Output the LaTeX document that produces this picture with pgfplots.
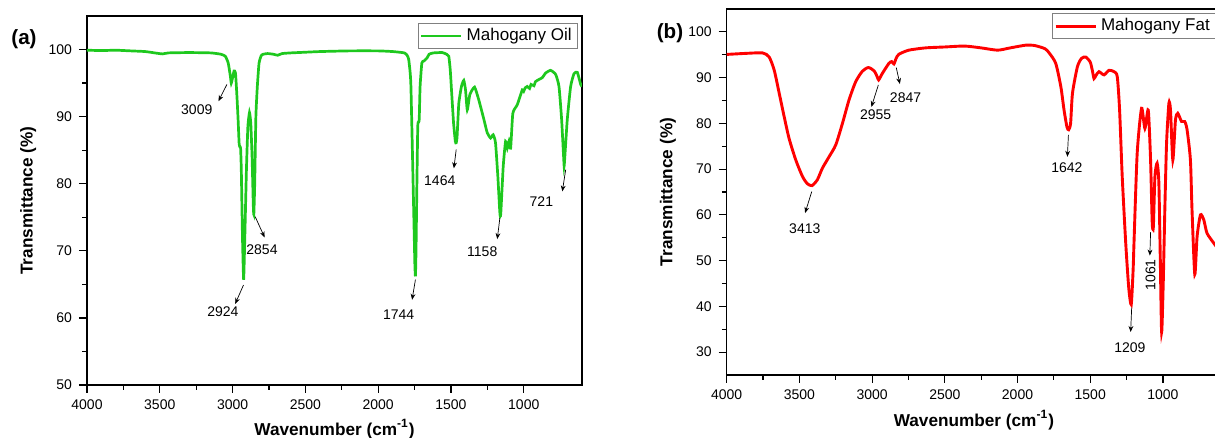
\documentclass[border=0pt]{standalone}
\usepackage{pgfplots}
\pgfplotsset{compat=1.18}
\usepackage{fontspec}
\setmainfont{Liberation Sans}
\usetikzlibrary{arrows.meta}

\definecolor{oilgreen}{RGB}{30,200,30}

\pgfplotsset{
  ftir/.style={
    scale only axis,
    anchor=south west,
    x dir=reverse,
    xmin=600, xmax=4000,
    xtick={1000,1500,...,4000},
    minor tick num=1,
    xtick pos=bottom, ytick pos=left,
    tick align=outside,
    major tick length=4pt, minor tick length=2.4pt,
    axis line style={line width=0.7pt},
    every tick/.style={black, line width=0.6pt},
    /pgf/number format/assume math mode=true,
    /pgf/number format/1000 sep={},
    tick label style={font=\fontsize{7}{8}\selectfont},
    label style={font=\bfseries\fontsize{8.6}{10}\selectfont},
    xlabel={Wavenumber (cm\textsuperscript{-1})},
    ylabel={Transmittance (\%)},
    legend image code/.code={\draw[#1] (0pt,0pt) -- (20pt,0pt);},
    legend style={anchor=north east, draw=gray, line width=0.4pt,
      font=\fontsize{8.5}{9}\selectfont, inner xsep=1pt, inner ysep=0.5pt},
  },
}
\tikzset{ann/.style={draw=black, line width=0.35pt, -{Stealth[length=3pt,width=2.4pt]}}}

\newcommand{\peak}[5]{%
  \draw[ann] (axis cs:#1) -- (axis cs:#2);
  \node[font=\fontsize{7}{8}\selectfont, #5] at (axis cs:#3) {#4};}

\begin{document}
\begin{tikzpicture}

% (a) oil
\begin{axis}[ftir,
  at={(43.5pt,26.5pt)}, width=247.5pt, height=184.5pt,
  ymin=50, ymax=105, ytick={50,60,...,100},
  xlabel style={at={(axis description cs:0.5,-0.119)}, anchor=center},
  ylabel style={at={(axis description cs:-0.119,0.5)}, anchor=center},
  legend style={at={(axis description cs:0.992,0.981)}},
]
\addplot[oilgreen, line width=1.35pt, smooth, tension=0.3] coordinates {
(4000,99.9) (3900,99.85) (3800,99.9) (3700,99.8) (3600,99.7) (3520,99.45)
(3480,99.35) (3440,99.5) (3300,99.55) (3150,99.5) (3080,99.3) (3050,99.0)
(3030,98.0) (3015,96.0) (3009,95.0) (3000,95.8) (2990,96.8) (2980,96.5)
(2970,93.0) (2962,89.5) (2955,86.0) (2950,85.5) (2945,85.3) (2940,82.0)
(2932,72.0) (2924,65.7) (2916,72.0) (2905,82.0) (2895,88.5) (2884,90.6)
(2875,89.0) (2866,84.0) (2858,77.0) (2854,75.4) (2848,80.0) (2840,90.0)
(2830,94.5) (2818,98.0) (2800,99.2) (2760,99.4) (2720,99.3) (2690,99.15)
(2660,99.4) (2600,99.5) (2500,99.6) (2400,99.7) (2200,99.8) (2000,99.8)
(1900,99.7) (1820,99.5) (1800,99.1) (1790,98.5) (1780,96.5) (1775,94.5)
(1765,85) (1755,75) (1748,68) (1744,66.2) (1740,70) (1734,80) (1728,88.6)
(1722,89.2) (1718,89.6) (1712,94.5) (1700,98.0) (1685,98.3) (1664,98.75)
(1650,99.3) (1620,99.5) (1560,99.55) (1530,99.3) (1515,99.0) (1505,97.0)
(1495,93.5) (1482,89) (1470,86.3) (1464,86.1) (1458,87) (1446,92.0)
(1428,94.5) (1412,95.4) (1400,94.0) (1388,91.0) (1370,93.3) (1338,94.4)
(1309,92.5) (1274,89.6) (1251,87.6) (1228,86.8) (1210,87.3) (1194,86.1)
(1178,81.1) (1164,75.6) (1158,75.5) (1141,82.6) (1125,86.3) (1113,85.3)
(1102,86.3) (1090,85.3) (1075,90.5) (1044,91.8) (1010,94.0) (1000,93.8)
(990,94.3) (976,94.5) (960,94.2) (950,94.8) (930,94.6) (920,95.2)
(907,95.4) (890,95.6) (873,95.8) (860,96.2) (850,96.5) (816,96.9)
(781,96.3) (758,94.5) (740,89.6) (724,83.1) (721,83.0) (701,89.6)
(678,94.5) (655,96.4) (632,96.6) (609,94.8) (600,94.5)
};
\addlegendentry{Mahogany Oil}
\peak{3039,94.8}{3097,92.3}{3246,91.0}{3009}{}
\peak{2925,64.9}{2982,62.1}{3067,60.9}{2924}{}
\peak{2845,75.1}{2780,72.0}{2798,70.15}{2854}{}
\peak{1744,65.7}{1767,62.7}{1859,60.55}{1744}{}
\peak{1464,85.1}{1480,82.3}{1577,80.4}{1464}{}
\peak{1164,74.9}{1182,71.75}{1285,69.8}{1158}{}
\peak{712,82.1}{735,78.85}{879,77.4}{721}{}
\end{axis}

% (b) fat
\begin{axis}[ftir,
  at={(363.35pt,31.5pt)}, width=247.2pt, height=183pt,
  ymin=25, ymax=105, ytick={30,40,...,100},
  xlabel style={at={(axis description cs:0.5,-0.123)}, anchor=center},
  ylabel style={at={(axis description cs:-0.1187,0.5)}, anchor=center},
  legend style={at={(axis description cs:0.99,0.989)}},
]
\addplot[red, line width=1.45pt, smooth, tension=0.4] coordinates {
(4000,95.07) (3868,95.3) (3753,95.4) (3708,94.5) (3673,91.6) (3639,86.6)
(3605,81.5) (3571,76.7) (3525,72.0) (3479,68.4) (3445,66.8) (3413,66.4)
(3376,67.7) (3342,70.2) (3296,72.7) (3250,75.3) (3204,80.0) (3159,85.1)
(3113,89.1) (3067,91.4) (3026,92.2) (2987,91.5) (2965,90.2) (2955,89.5)
(2930,90.9) (2885,93.1) (2866,93.5) (2850,93.0) (2835,94.2) (2816,95.1)
(2748,96.0) (2633,96.5) (2500,96.7) (2365,96.9) (2250,96.5) (2137,96.0)
(2050,96.5) (1942,97.1) (1880,97.0) (1810,96.3) (1780,95.3) (1737,93.1)
(1702,88.0) (1680,82.9) (1660,79.2) (1648,78.6) (1635,80) (1622,86.6)
(1588,92.4) (1560,94.2) (1531,94.5) (1500,93.4) (1485,91.5) (1474,89.8)
(1460,90.5) (1440,91.3) (1405,90.6) (1371,91.6) (1336,91.3) (1314,90.2)
(1298,82.9) (1280,68.4) (1256,53.9) (1235,44) (1218,40.4) (1205,48)
(1199,53.9) (1177,73.5) (1147,83.3) (1124,78.9) (1101,82.9) (1085,72.0)
(1074,58.5) (1066,57.3) (1055,68.4) (1040,71.3) (1028,67.0) (1018,50)
(1009,34.4) (998,45) (987,61.1) (975,75.7) (959,84.4) (948,82.9)
(932,72.0) (914,80.7) (898,82.2) (872,80.4) (850,80.4) (834,78.6)
(811,72.0) (800,61.1) (781,47.0) (765,55.3) (742,60.0) (719,58.9)
(697,56.0) (652,53.9) (620,52.5) (600,51.5)
};
\addlegendentry{Mahogany Fat}
\peak{3415,65.1}{3461,60.4}{3463,57.0}{3413}{}
\peak{2957,88.4}{3005,83.6}{2976,82.0}{2955}{}
\peak{2834,92.2}{2809,88.6}{2770,85.7}{2847}{}
\peak{1650,77.5}{1657,72.7}{1661,70.3}{1642}{}
\peak{1215,39.7}{1222,34.4}{1227,31.0}{1209}{}
\peak{1085,56.2}{1090,51.1}{1085,46.9}{1061}{rotate=90}
\end{axis}

\node[font=\bfseries\fontsize{10.3}{12}\selectfont] at (12pt,199.5pt) {(a)};
\node[font=\bfseries\fontsize{10.3}{12}\selectfont] at (335pt,202.5pt) {(b)};

\pgfresetboundingbox
\path[use as bounding box] (0,0) rectangle (607.5pt,219pt);
\end{tikzpicture}
\end{document}
